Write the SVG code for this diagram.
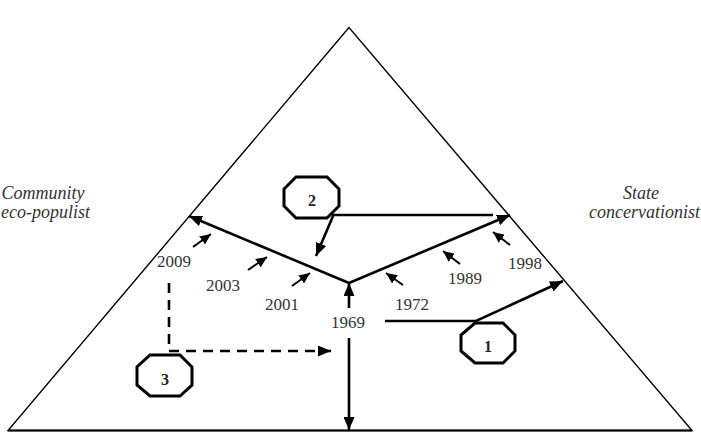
<svg xmlns="http://www.w3.org/2000/svg" width="701" height="448" viewBox="0 0 701 448">
<style>
.frame{fill:none;stroke:#000;stroke-width:1.4}
.main{fill:none;stroke:#000;stroke-width:2.6}
.small{fill:none;stroke:#000;stroke-width:2}
.dash{fill:none;stroke:#000;stroke-width:2.6;stroke-dasharray:10 7}
.oct{fill:#fff;stroke:#000;stroke-width:3}
.yr{font-family:"Liberation Serif","Times New Roman",serif;font-size:17px;fill:#333;text-anchor:middle}
.num{font-family:"Liberation Serif","Times New Roman",serif;font-size:16px;fill:#222;text-anchor:middle;font-weight:bold}
.lab{font-family:"Liberation Serif","Times New Roman",serif;font-size:18px;font-style:italic;fill:#333;text-anchor:middle}
</style>
<defs>
<marker id="ah" markerUnits="userSpaceOnUse" markerWidth="13" markerHeight="11" refX="13" refY="5.5" orient="auto">
<path d="M0,0 L13,5.5 L0,11 z" fill="#000"/>
</marker>
<marker id="ahs" markerUnits="userSpaceOnUse" markerWidth="11" markerHeight="10" refX="11" refY="5" orient="auto">
<path d="M0,0 L11,5 L0,10 z" fill="#000"/>
</marker>
</defs>
<rect width="701" height="448" fill="#fff"/>
<g id="triangle">
<polygon class="frame" points="349,27.5 8,430.5 692,430.5"/>
<line x1="8" y1="430.5" x2="692" y2="430.5" stroke="#000" stroke-width="2"/>
</g>
<g id="labels">
<text class="lab" x="43" y="199">Community</text>
<text class="lab" x="45.5" y="218">eco-populist</text>
<text class="lab" x="641" y="199">State</text>
<text class="lab" x="644.5" y="218">concervationist</text>
</g>
<g id="connectors">
<line class="main" x1="349" y1="283" x2="189" y2="216" marker-end="url(#ah)"/>
<line class="main" x1="349" y1="283" x2="510" y2="215" marker-end="url(#ah)"/>
<line class="main" x1="349" y1="308" x2="349" y2="283" marker-end="url(#ah)"/>
<line class="main" x1="349" y1="338" x2="349" y2="430" marker-end="url(#ah)"/>
<polyline class="main" points="385,321 476,321 563,281" marker-end="url(#ah)"/>
<line class="main" x1="332" y1="215" x2="493" y2="215"/>
<line class="main" x1="333" y1="216" x2="316" y2="256" marker-end="url(#ah)"/>
<polyline class="dash" points="169,283 169,351 331,351" marker-end="url(#ah)"/>
<line class="small" x1="193" y1="247" x2="211" y2="234" marker-end="url(#ahs)"/>
<line class="small" x1="248" y1="270" x2="267" y2="257" marker-end="url(#ahs)"/>
<line class="small" x1="292" y1="286" x2="310" y2="273" marker-end="url(#ahs)"/>
<line class="small" x1="403" y1="285" x2="386" y2="273" marker-end="url(#ahs)"/>
<line class="small" x1="460" y1="264" x2="443" y2="251" marker-end="url(#ahs)"/>
<line class="small" x1="510" y1="245" x2="493" y2="232" marker-end="url(#ahs)"/>
</g>
<g id="years">
<text class="yr" x="174" y="267">2009</text>
<text class="yr" x="223" y="291">2003</text>
<text class="yr" x="282" y="310">2001</text>
<text class="yr" x="348" y="328">1969</text>
<text class="yr" x="412" y="310">1972</text>
<text class="yr" x="465" y="284">1989</text>
<text class="yr" x="525" y="269">1998</text>
</g>
<g id="node1">
<polygon class="oct" points="475,323 503,323 515,335 515,351 503,363 475,363 461,351 461,335"/>
<text class="num" x="488" y="352">1</text>
</g>
<g id="node2">
<polygon class="oct" points="296,177 327,177 339,189 339,206 327,218 296,218 284,206 284,189"/>
<text class="num" x="312" y="206">2</text>
</g>
<g id="node3">
<polygon class="oct" points="150,355 180,355 192,367 192,385 180,396 150,396 137,385 137,367"/>
<text class="num" x="165" y="385" font-weight="normal">3</text>
</g>
</svg>
